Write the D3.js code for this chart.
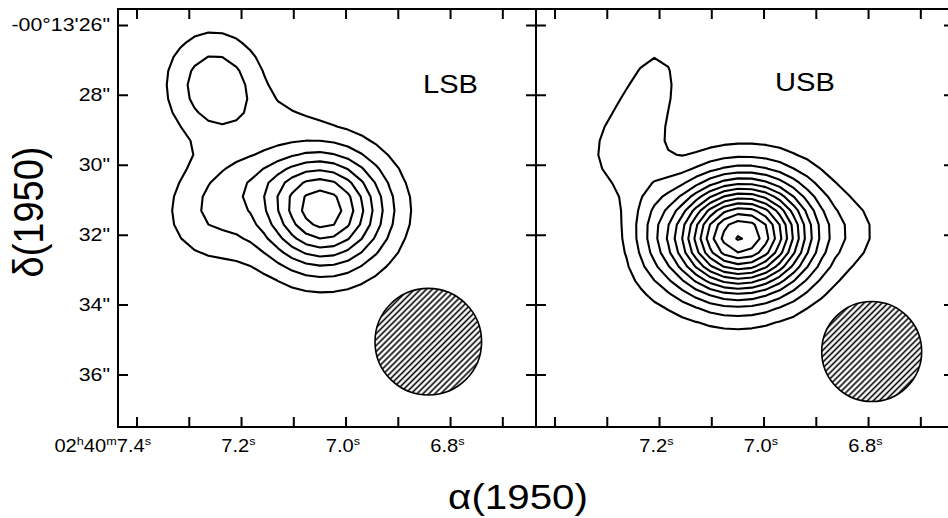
<!DOCTYPE html>
<html>
<head>
<meta charset="utf-8">
<script src="https://cdn.jsdelivr.net/npm/d3@7"></script>
<style>
  body { margin: 0; background: #fff; }
  text { font-family: "Liberation Sans", Arial, Helvetica, sans-serif; fill: #000; }
</style>
</head>
<body>
<div id="chart"></div>
<script>
// panels and contour levels (relative units, one step per contour)
const panels = ['LSB', 'USB']
const lsbLevels = [1, 2, 3, 4, 5, 6, 7]
const usbLevels = [1, 2, 3, 4, 5, 6, 7, 8, 9, 10, 11, 12, 13, 14]

// emission components: RA (s), Dec ("), peak, widths ("), tilt (deg)
const lsbRA    = [7.0441, 7.2603, 7.2488, 7.1168, 7.1742]
const lsbDec   = [31.28, 31.42, 27.79, 28.65, 30.37]
const lsbPeak  = [7.7, 1.8, 2.85, 0.55, 1.0]
const lsbSigX  = [1.24, 0.95, 0.97, 0.86, 1.15]
const lsbSigY  = [1.16, 0.97, 1.10, 0.52, 0.63]
const lsbTilt  = [0, 0, 13, 0, 0]

const usbRA    = [7.0441, 7.2182, 7.2852, 6.8202, 7.2144]
const usbDec   = [32.03, 27.99, 29.57, 31.91, 31.42]
const usbPeak  = [14.15, 1.5, 1.1, 0.7, 0.9]
const usbSigX  = [1.40, 0.60, 0.72, 0.57, 0.50]
const usbSigY  = [1.14, 1.20, 1.00, 0.72, 1.30]
const usbTilt  = [5, -15, -10, 0, 0]

// beams (hatched circles): RA (s), Dec ("), diameter (")
const beamRA   = [6.8426, 6.7940]
const beamDec  = [35.05, 35.33]
const beamSize = [3.05, 2.86]

// axis ticks
const raTicks    = [7.4, 7.3, 7.2, 7.1, 7.0, 6.9, 6.8, 6.7]
const raLabelled = [[7.4, 7.2, 7.0, 6.8], [7.2, 7.0, 6.8]]
const decTicks   = [26, 28, 30, 32, 34, 36]
const decLabels  = ['-00°13\'26"', '28"', '30"', '32"', '34"', '36"']

const W = 948, H = 518
const frame = { top: 9, bottom: 427, left: 118, width: 418 }
const raDomain = [7.4364, 6.6365]
const decDomain = [25.53, 37.49]
const tickLen = 10
const stretch = 1.22

const svg = d3.select('#chart').append('svg')
  .attr('width', W)
  .attr('height', H)
  .style('display', 'block')

svg.append('rect').attr('width', W).attr('height', H).attr('fill', '#fff')

const defs = svg.append('defs')
defs.append('pattern')
  .attr('id', 'hatch')
  .attr('patternUnits', 'userSpaceOnUse')
  .attr('width', 4.2)
  .attr('height', 4.2)
  .attr('patternTransform', 'rotate(-45)')
  .append('line')
  .attr('x1', 0).attr('x2', 4.2)
  .attr('y1', 2.1).attr('y2', 2.1)
  .attr('stroke', '#000')
  .attr('stroke-width', 1.6)

const y = d3.scaleLinear().domain(decDomain).range([frame.top, frame.bottom])

const comps = {
  LSB: { ra: lsbRA, dec: lsbDec, peak: lsbPeak, sx: lsbSigX, sy: lsbSigY, tilt: lsbTilt, levels: lsbLevels },
  USB: { ra: usbRA, dec: usbDec, peak: usbPeak, sx: usbSigX, sy: usbSigY, tilt: usbTilt, levels: usbLevels }
}

// sample grid (coarse, like the original map cells)
const step = 0.4
const raStart = 7.45, decStart = 25.3
const nx = 33, ny = 32
const raAt = c => raStart - (c - 0.5) * step / 15
const decAt = c => decStart + (c - 0.5) * step

function field (p, ra, dec) {
  let s = 0
  for (let k = 0; k < p.ra.length; k++) {
    const u = (p.ra[k] - ra) * 15
    const v = dec - p.dec[k]
    const t = -p.tilt[k] * Math.PI / 180
    const a = u * Math.cos(t) + v * Math.sin(t)
    const b = -u * Math.sin(t) + v * Math.cos(t)
    s += p.peak[k] * Math.exp(-0.5 * ((a / p.sx[k]) ** 2 + (b / p.sy[k]) ** 2))
  }
  return s
}

function stretchedText (g, x, yy, str, size, anchor, sx) {
  return g.append('text')
    .attr('transform', 'translate(' + x + ',' + yy + ') scale(' + (sx || stretch) + ',1)')
    .attr('text-anchor', anchor || 'start')
    .attr('font-size', size)
    .text(str)
}

panels.forEach((name, pi) => {
  const x0 = frame.left + pi * frame.width
  const x = d3.scaleLinear().domain(raDomain).range([x0, x0 + frame.width])
  const p = comps[name]
  const g = svg.append('g')

  defs.append('clipPath').attr('id', 'clip' + pi)
    .append('rect')
    .attr('x', x0).attr('y', frame.top)
    .attr('width', frame.width).attr('height', frame.bottom - frame.top)

  // contours
  const values = new Array(nx * ny)
  for (let j = 0; j < ny; j++) {
    for (let i = 0; i < nx; i++) {
      values[i + j * nx] = field(p, raStart - i * step / 15, decStart + j * step)
    }
  }
  const contours = d3.contours().size([nx, ny]).thresholds(p.levels)(values)
  const proj = d3.geoTransform({
    point (cx, cy) { this.stream.point(x(raAt(cx)), y(decAt(cy))) }
  })
  g.append('g')
    .attr('clip-path', 'url(#clip' + pi + ')')
    .selectAll('path')
    .data(contours)
    .enter()
    .append('path')
    .attr('d', d3.geoPath(proj))
    .attr('fill', 'none')
    .attr('stroke', '#000')
    .attr('stroke-width', 2.1)
    .attr('stroke-linejoin', 'round')

  // beam
  const r = y(beamDec[pi] + beamSize[pi] / 2) - y(beamDec[pi])
  g.append('circle')
    .attr('cx', x(beamRA[pi]))
    .attr('cy', y(beamDec[pi]))
    .attr('r', r)
    .attr('fill', 'url(#hatch)')
    .attr('stroke', '#000')
    .attr('stroke-width', 1.6)

  // frame
  g.append('rect')
    .attr('x', x0).attr('y', frame.top)
    .attr('width', frame.width).attr('height', frame.bottom - frame.top)
    .attr('fill', 'none')
    .attr('stroke', '#000')
    .attr('stroke-width', 2)

  // ra ticks top and bottom, pointing inward
  g.selectAll('.rt')
    .data(raTicks)
    .enter()
    .append('path')
    .attr('d', d => 'M' + x(d) + ',' + frame.top + 'v' + tickLen + 'M' + x(d) + ',' + frame.bottom + 'v' + (-tickLen))
    .attr('stroke', '#000')
    .attr('stroke-width', 2)

  // dec ticks left and right, pointing inward
  g.selectAll('.dt')
    .data(decTicks)
    .enter()
    .append('path')
    .attr('d', d => 'M' + x0 + ',' + y(d) + 'h' + tickLen + 'M' + (x0 + frame.width) + ',' + y(d) + 'h' + (-tickLen))
    .attr('stroke', '#000')
    .attr('stroke-width', 2)

  // ra labels with superscripts
  raLabelled[pi].forEach(v => {
    const t = g.append('text')
      .attr('transform', 'translate(' + (x(v) + 14) + ',452) scale(1.15,1)')
      .attr('text-anchor', 'end')
      .attr('font-size', 17.5)
    if (v === 7.4) {
      t.append('tspan').text('02')
      t.append('tspan').attr('font-size', 11).attr('dy', -7).text('h')
      t.append('tspan').attr('dy', 7).text('40')
      t.append('tspan').attr('font-size', 11).attr('dy', -7).text('m')
      t.append('tspan').attr('dy', 7).text('7.4')
    } else {
      t.append('tspan').text(v.toFixed(1))
    }
    t.append('tspan').attr('font-size', 11).attr('dy', -7).text('s')
  })

  stretchedText(g, name === 'LSB' ? 423 : 775, name === 'LSB' ? 93 : 91, name, 26, 'start', 1.12)
})

// dec labels
decTicks.forEach((d, i) => {
  stretchedText(svg, 110, y(d) + 6, decLabels[i], 17.5, 'end')
})

// axis titles
svg.append('text')
  .attr('transform', 'translate(43,212) rotate(-90) scale(1,1.1)')
  .attr('text-anchor', 'middle')
  .attr('font-size', 38)
  .text('δ(1950)')

svg.append('text')
  .attr('transform', 'translate(518,509) scale(1.12,1)')
  .attr('text-anchor', 'middle')
  .attr('font-size', 36)
  .text('α(1950)')
</script>
</body>
</html>
